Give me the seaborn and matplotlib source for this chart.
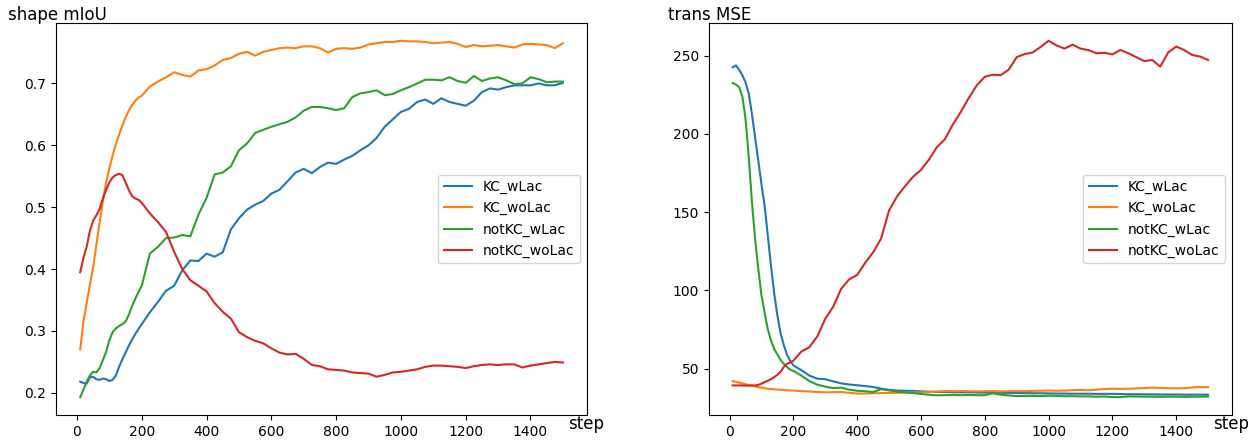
import numpy as np
import pandas as pd
import matplotlib
matplotlib.use('Agg')
import matplotlib.pyplot as plt
import seaborn as sns

# denser sampling at the start where the curves move fast
steps = list(range(10, 201, 10)) + list(range(225, 1501, 25))
runs = ['KC_wLac', 'KC_woLac', 'notKC_wLac', 'notKC_woLac']

# shape mIoU
miou_KC_wLac = [0.218, 0.216, 0.215, 0.225, 0.226, 0.222, 0.221, 0.223, 0.222, 0.219,
                0.221, 0.228, 0.242, 0.254, 0.265, 0.276, 0.286, 0.295, 0.303, 0.311,
                0.330,
                0.347, 0.365, 0.373, 0.398, 0.414, 0.413, 0.425, 0.420, 0.427, 0.464,
                0.482, 0.496, 0.504, 0.510, 0.522, 0.528, 0.542, 0.556, 0.562, 0.555,
                0.565, 0.572, 0.570, 0.577, 0.583, 0.592, 0.600, 0.612, 0.630, 0.642,
                0.654, 0.659, 0.670, 0.674, 0.667, 0.676, 0.670, 0.667, 0.664, 0.672,
                0.686, 0.692, 0.690, 0.694, 0.697, 0.697, 0.697, 0.700, 0.697, 0.697,
                0.701]
miou_KC_woLac = [0.270, 0.315, 0.345, 0.375, 0.403, 0.440, 0.475, 0.510, 0.540, 0.563,
                 0.583, 0.602, 0.617, 0.632, 0.645, 0.656, 0.665, 0.672, 0.677, 0.680,
                 0.695,
                 0.703, 0.710, 0.718, 0.714, 0.711, 0.721, 0.723, 0.729, 0.738, 0.741,
                 0.748, 0.751, 0.745, 0.751, 0.754, 0.757, 0.758, 0.757, 0.760, 0.760,
                 0.757, 0.750, 0.756, 0.757, 0.756, 0.758, 0.763, 0.765, 0.767, 0.767,
                 0.769, 0.768, 0.768, 0.767, 0.765, 0.766, 0.767, 0.764, 0.759, 0.762,
                 0.760, 0.761, 0.762, 0.760, 0.758, 0.763, 0.764, 0.763, 0.762, 0.757,
                 0.765]
miou_notKC_wLac = [0.193, 0.205, 0.218, 0.228, 0.234, 0.233, 0.240, 0.253, 0.266, 0.285,
                   0.298, 0.304, 0.308, 0.311, 0.315, 0.326, 0.340, 0.352, 0.363, 0.373,
                   0.425,
                   0.436, 0.450, 0.451, 0.455, 0.453, 0.488, 0.515, 0.553, 0.556, 0.566,
                   0.592, 0.603, 0.620, 0.625, 0.630, 0.634, 0.638, 0.645, 0.656, 0.662,
                   0.662, 0.660, 0.657, 0.660, 0.678, 0.684, 0.686, 0.689, 0.681, 0.683,
                   0.689, 0.694, 0.700, 0.706, 0.706, 0.705, 0.710, 0.704, 0.701, 0.712,
                   0.704, 0.708, 0.710, 0.705, 0.699, 0.700, 0.710, 0.707, 0.702, 0.703,
                   0.703]
miou_notKC_woLac = [0.395, 0.418, 0.436, 0.462, 0.478, 0.487, 0.497, 0.514, 0.528, 0.540,
                    0.548, 0.552, 0.554, 0.552, 0.540, 0.528, 0.518, 0.514, 0.512, 0.507,
                    0.490,
                    0.476, 0.460, 0.428, 0.400, 0.382, 0.373, 0.364, 0.345, 0.331, 0.320,
                    0.298, 0.290, 0.284, 0.280, 0.272, 0.265, 0.262, 0.263, 0.255, 0.245,
                    0.243, 0.238, 0.237, 0.236, 0.233, 0.232, 0.231, 0.226, 0.229, 0.233,
                    0.234, 0.236, 0.238, 0.242, 0.244, 0.244, 0.243, 0.242, 0.240, 0.243,
                    0.245, 0.246, 0.245, 0.246, 0.246, 0.241, 0.244, 0.246, 0.248, 0.250,
                    0.249]

# trans MSE
mse_KC_wLac = [242.5, 243.8, 241, 237.5, 233, 226, 213, 198, 183, 168,
               154, 135, 115.5, 98, 84, 72.5, 65, 59, 55, 52,
               49,
               45.5, 43.5, 43.2, 41.8, 40.5, 39.8, 39.3, 38.8, 38.2, 37.2,
               36.4, 35.9, 35.8, 35.7, 35.4, 35.2, 35.0, 35.0, 34.9, 34.8,
               34.8, 34.7, 34.6, 34.5, 34.5, 34.4, 34.4, 34.3, 34.2, 34.2,
               34.1, 34.0, 34.0, 33.9, 33.9, 33.9, 33.8, 33.8, 33.8, 33.7,
               33.6, 33.6, 33.5, 33.5, 33.4, 33.4, 33.4, 33.3, 33.3, 33.3,
               33.3]
mse_KC_woLac = [41.9, 41.5, 41.0, 40.5, 40.0, 39.5, 39.0, 38.5, 38.1, 37.8,
                37.4, 37.1, 36.9, 36.7, 36.5, 36.4, 36.3, 36.1, 36.0, 35.9,
                35.6,
                35.3, 35.0, 34.8, 34.9, 35.0, 34.5, 34.0, 34.0, 34.2, 34.3,
                34.4, 34.5, 34.6, 34.7, 34.8, 34.9, 35.3, 35.6, 35.5, 35.6,
                35.5, 35.4, 35.5, 35.6, 35.4, 35.5, 35.6, 35.5, 35.7, 35.8,
                35.9, 35.8, 35.9, 36.2, 36.3, 36.1, 36.5, 36.9, 37.1, 37.0,
                37.1, 37.3, 37.5, 37.8, 37.6, 37.4, 37.3, 37.4, 37.9, 38.2,
                38.1]
mse_notKC_wLac = [232.5, 231.5, 230, 224, 210, 186, 157, 133, 114, 97,
                  85.7, 75, 68, 62.5, 59, 55.5, 53, 51, 49.3, 48.5,
                  45.5,
                  42, 39.7, 38.4, 37.5, 37.8, 36.5, 35.8, 35.5, 35.0, 36.8,
                  36.0, 35.2, 34.8, 34.3, 33.8, 33.2, 32.9, 33.0, 33.2, 33.0,
                  33.1, 33.0, 32.9, 34.2, 33.3, 32.8, 32.4, 32.5, 32.5, 32.4,
                  32.6, 32.5, 32.3, 32.3, 32.2, 32.2, 32.0, 32.1, 31.8, 31.7,
                  32.2, 32.1, 32.0, 32.0, 31.9, 32.0, 32.0, 31.9, 32.0, 32.0,
                  32.1]
mse_notKC_woLac = [39.2, 39.2, 39.2, 39.2, 39.1, 39.1, 39.2, 39.2, 39.5, 40.3,
                   41.3, 42.2, 43.2, 44.5, 46.0, 48.0, 51.0, 53.0, 53.8, 55.0,
                   60.8,
                   63.6, 70.5, 81.8, 89.5, 101, 107, 109.8, 117.5, 124.2, 133,
                   151, 160, 166.5, 172.5, 177, 183.5, 191.5, 196.5, 206, 214,
                   223, 231, 236.5, 237.8, 237.5, 241, 249, 251, 252, 255.5,
                   259.5, 256.5, 254.5, 257, 254.5, 253.5, 251.5, 251.8, 250.8, 253.6,
                   251.5, 249, 246.5, 247.2, 243, 252, 255.8, 253.6, 250.4, 249.4,
                   247.2]


def long_frame(series):
    frames = []
    for name, vals in zip(runs, series):
        frames.append(pd.DataFrame({'step': steps, 'value': vals, 'run': name}))
    return pd.concat(frames, ignore_index=True)


miou = long_frame([miou_KC_wLac, miou_KC_woLac, miou_notKC_wLac, miou_notKC_woLac])
mse = long_frame([mse_KC_wLac, mse_KC_woLac, mse_notKC_wLac, mse_notKC_woLac])

colors = sns.color_palette('tab10', 4)

fig = plt.figure(figsize=(12.57, 4.41), dpi=100)
ax1 = fig.add_axes([0.0446, 0.059, 0.4224, 0.889])
ax2 = fig.add_axes([0.564, 0.059, 0.416, 0.889])

for ax, df, title, tx in [(ax1, miou, 'shape mIoU', -0.090), (ax2, mse, 'trans MSE', -0.078)]:
    sns.lineplot(data=df, x='step', y='value', hue='run', hue_order=runs,
                 palette=colors, ax=ax, linewidth=1.5)
    ax.set_ylabel(title, rotation=0, ha='left', va='center', fontsize=12)
    ax.yaxis.set_label_coords(tx, 1.02)
    ax.set_xlabel('step', ha='left', va='center', fontsize=12)
    ax.xaxis.set_label_coords(0.965, -0.022)
    ax.legend(loc='center right', fontsize=10)

fig.savefig('out.png', dpi=100)
